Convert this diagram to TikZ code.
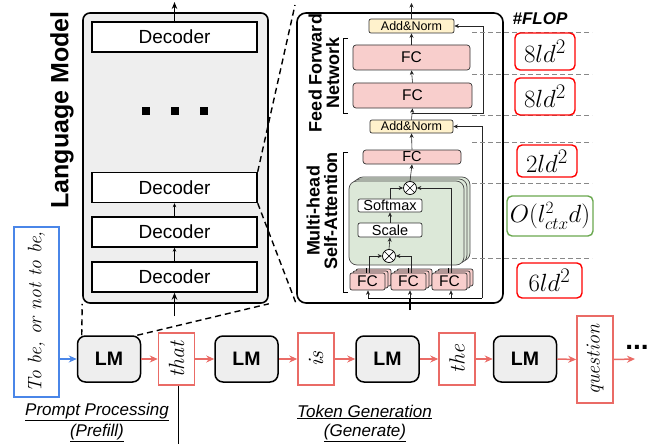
\documentclass[tikz,border=0pt]{standalone}
\usepackage[no-math]{fontspec}
\setsansfont{Liberation Sans}
\usetikzlibrary{arrows.meta,calc}
\definecolor{lmgray}{HTML}{EEEEEE}
\definecolor{fcpink}{HTML}{F8CECC}
\definecolor{anyellow}{HTML}{FFF2CC}
\definecolor{attgreen}{HTML}{DCE8D8}
\definecolor{tokred}{HTML}{EA6B66}
\definecolor{promptblue}{HTML}{4A86E8}
\definecolor{flopred}{HTML}{FF0000}
\definecolor{flopgreen}{HTML}{6AA84F}
\definecolor{dashgray}{HTML}{888888}
\newcommand\myfs[1]{\fontsize{#1}{#1}\selectfont}
\begin{document}
\begin{tikzpicture}[x=1pt,y=-1pt,font=\sffamily,
  lmbox/.style={draw,line width=1.6pt,fill=lmgray,rounded corners=7pt,minimum width=185pt,minimum height=290pt,inner sep=0pt},
  dec/.style={draw,line width=1.4pt,fill=white,minimum width=165pt,minimum height=30pt,inner sep=0pt,font={\sffamily\myfs{19}}},
  detbox/.style={draw,line width=1.6pt,fill=white,rounded corners=9pt,minimum width=206pt,minimum height=290pt,inner sep=0pt},
  anbox/.style={draw=black!80,line width=0.7pt,fill=anyellow,rounded corners=2pt,inner sep=0pt,font={\sffamily\myfs{12.5}}},
  fcbox/.style={draw=black!80,line width=0.7pt,fill=fcpink,rounded corners=3pt,inner sep=0pt,font={\sffamily\myfs{15.5}}},
  wbox/.style={draw=black!80,line width=0.7pt,fill=white,rounded corners=2pt,inner sep=0pt,minimum width=64pt,font={\sffamily\myfs{14.5}}},
  attbox/.style={draw=black!70,line width=0.7pt,fill=attgreen,rounded corners=8pt,minimum width=115pt,minimum height=84pt,inner sep=0pt},
  otimes/.style={draw,circle,fill=white,line width=0.7pt,minimum size=13pt,inner sep=0pt},
  rotlabel/.style={rotate=90,align=center,font={\sffamily\bfseries\myfs{18}\setlength{\baselineskip}{17.5pt}}},
  flopbox/.style={draw=flopred,line width=1.4pt,rounded corners=5pt,inner sep=0pt},
  lmnode/.style={draw,line width=1.5pt,fill=lmgray,rounded corners=8pt,minimum width=63pt,minimum height=46pt,inner sep=0pt,font={\sffamily\bfseries\myfs{19.5}}},
  tok/.style={draw=tokred,line width=1.5pt,fill=white,minimum width=36pt,inner sep=0pt},
  hand/.style={rotate=90,font={\rmfamily\itshape\myfs{22}}},
  tokarr/.style={draw=tokred,line width=1.5pt,-{Stealth[length=8pt,width=7pt]}},
  thkarr/.style={line width=1.4pt,-{Stealth[length=7pt,width=5.5pt]}},
  smarr/.style={line width=0.6pt,-{Stealth[length=4pt,width=3.5pt]}},
  tnarr/.style={line width=0.6pt,draw=black!85,-{Stealth[length=4.5pt,width=4pt]}},
  bigdash/.style={line width=1.4pt,dash pattern=on 6pt off 4pt},
  gdash/.style={dashgray,line width=0.8pt,dash pattern=on 5pt off 3pt},
  undl/.style={font={\sffamily\itshape\myfs{17}}}
]
\useasboundingbox (0,0) rectangle (667,444);

% ---------- Language model ----------
\node[lmbox] (lmm) at (175.5,158) {};
\node[dec] (d1) at (174.5,37) {Decoder};
\node[dec] (d2) at (174.5,187.5) {Decoder};
\node[dec] (d3) at (174.5,232) {Decoder};
\node[dec] (d4) at (174.5,277) {Decoder};
\foreach \x in {146,175,204} \fill (\x-4,106.5) rectangle (\x+4,114.5);
\node[rotate=90,font={\sffamily\bfseries\myfs{25}}] (lmlabel) at (62,110) {Language Model};
\coordinate (lmtop) at (174.5,2);
\coordinate (lmin) at (174.5,316);
\draw[thkarr] (d1.north) -- (lmtop);
\draw[smarr] (d3.north) -- (d2.south);
\draw[smarr] (d4.north) -- (d3.south);
\draw[thkarr] (lmin) -- (d4.south);

% ---------- detail box ----------
\node[detbox] (det) at (400,158) {};
\node[rotlabel] (ffnlab) at (324,73) {Feed Forward\\Network};
\node[rotlabel] (mhlab) at (322,211) {Multi-head\\Self-Attention};
\draw[line width=1pt] (348,39) -- (343,39) -- (343,113) -- (348,113);
\draw[line width=1pt] (348,152) -- (343,152) -- (343,292) -- (348,292);

\node[anbox,minimum width=85pt,minimum height=14pt] (an1) at (411.5,26) {Add\&Norm};
\node[fcbox,minimum width=117pt,minimum height=25pt] (fc1) at (411.5,57.5) {FC};
\node[fcbox,minimum width=119pt,minimum height=25pt] (fc2) at (412.5,95.5) {FC};
\node[anbox,minimum width=83pt,minimum height=13pt] (an2) at (411.5,126.5) {Add\&Norm};
\node[fcbox,minimum width=98pt,minimum height=14pt,font={\sffamily\myfs{14.5}}] (fco) at (412,157) {FC};

% attention stack
\node[attbox] (att2) at (412.5,219) {};
\node[attbox] (att1) at (409.5,221) {};
\node[attbox] (att) at (406.5,223) {};
\node[otimes] (mu) at (410,188) {};
\draw[line width=0.7pt] (mu.north west) -- (mu.south east) (mu.north east) -- (mu.south west);
\node[wbox,minimum height=13pt] (sm) at (390,205.5) {Softmax};
\node[wbox,minimum height=14pt] (sc) at (390,230) {Scale};
\node[otimes] (ml) at (389,256) {};
\draw[line width=0.7pt] (ml.north west) -- (ml.south east) (ml.north east) -- (ml.south west);

% heads
\foreach \n/\x in {hL/367.5,hM/408.5,hR/449.5}{
  \node[fcbox,rounded corners=2pt,minimum width=35pt,minimum height=17pt] at (\x+6,277.5) {};
  \node[fcbox,rounded corners=2pt,minimum width=35pt,minimum height=17pt] at (\x+3,279.5) {};
  \node[fcbox,rounded corners=2pt,minimum width=35pt,minimum height=17pt] (\n) at (\x,281.5) {FC};
}

% attention arrows
\coordinate (inb) at (410,310);
\coordinate (junc) at (410,298);
\coordinate (jl) at (368,298);
\coordinate (jr) at (451,298);
\coordinate (jres) at (482,298);
\draw[line width=1.4pt] (inb) -- (junc);
\draw[line width=0.7pt] (jl) -- (jres);
\draw[tnarr] (jl) -- (jl |- hL.south);
\draw[tnarr] (junc) -- (junc |- hM.south);
\draw[tnarr] (jr) -- (jr |- hR.south);
\draw[tnarr] (jres) -- (jres |- an2.east) -- (an2.east);
\draw[tnarr] ($(hL.north)+(2,0)$) |- (ml.west);
\draw[tnarr] ($(hM.north)+(3,0)$) |- (ml.east);
\draw[tnarr] ($(hR.north)+(2,0)$) |- (mu.east);
\draw[line width=0.6pt] ($(hL.north)+(-1,0)$) -- ++(0,-5) ($(hM.north)+(0,0)$) -- ++(0,-5) ($(hR.north)+(-1,0)$) -- ++(0,-5);
\draw[tnarr] (ml.north) -- (sc.south);
\draw[tnarr] (sc.north) -- (sm.south);
\draw[tnarr] (sm.north) |- (mu.west);
\draw[tnarr] (mu.north) -- (fco.south);
\draw[tnarr] (fco.north) -- (an2.south);
\draw[tnarr] (an2.north) -- (fc2.south);
\draw[tnarr] (fc2.north) -- (fc1.south);
\draw[tnarr] (fc1.north) -- (an1.south);
\coordinate (dtop) at (411.5,3);
\draw[tnarr] (an1.north) -- (dtop);
\coordinate (res1) at (411.5,113);
\draw[tnarr] (res1) -| (483,26) -- (an1.east);

% gray dashed guide lines
\foreach \y in {32,74,115,142,183,258} \draw[gdash] (472,\y) -- (592,\y);

% FLOP column
\node[font={\sffamily\bfseries\itshape\myfs{17}}] (floph) at (540,19) {\#FLOP};
\node[flopbox,minimum width=60pt,minimum height=37pt,font={\myfs{30}}] (f1) at (545,51.5) {$8ld^2$};
\node[flopbox,minimum width=60pt,minimum height=37pt,font={\myfs{30}}] (f2) at (545,96.5) {$8ld^2$};
\node[flopbox,minimum width=60pt,minimum height=32pt,font={\myfs{30}}] (f3) at (547,161) {$2ld^2$};
\node[flopbox,draw=flopgreen,minimum width=86pt,minimum height=40pt,font={\myfs{23}}] (f4) at (550,216) {$O(l_{ctx}^2d)$};
\node[flopbox,minimum width=65pt,minimum height=35pt,font={\myfs{32}}] (f5) at (549.5,280.5) {$6ld^2$};

% ---------- bottom row ----------
\node[draw=promptblue,line width=1.5pt,fill=white,minimum width=45pt,minimum height=170pt,inner sep=0pt] (prompt) at (36.5,312) {};
\node[rotate=90,font={\rmfamily\itshape\myfs{19.5}}] at (prompt.center) {To be, or not to be,};
\node[lmnode] (lm1) at (109,359) {LM};
\node[lmnode] (lm2) at (246.5,359) {LM};
\node[lmnode] (lm3) at (387.5,359) {LM};
\node[lmnode] (lm4) at (525,359) {LM};
\node[tok,minimum height=52pt] (t1) at (176.5,359) {};
\node[hand] at (t1.center) {that};
\node[tok,minimum height=52pt] (t2) at (316,359) {};
\node[hand] at (t2.center) {is};
\node[tok,minimum height=52pt] (t3) at (457,359) {};
\node[hand] at (t3.center) {the};
\node[tok,minimum height=87pt] (t4) at (595,359.5) {};
\node[hand,font={\rmfamily\itshape\myfs{20}}] at (t4.center) {question};
\coordinate (tend) at (635,359);
\node[anchor=base,font={\sffamily\bfseries\myfs{28}}] (more) at (637,349) {...};

\draw[draw=promptblue,line width=1.5pt,-{Stealth[length=8pt,width=7pt]}] (prompt.east |- lm1.west) -- (lm1.west);
\draw[tokarr] (lm1.east) -- (t1.west);
\draw[tokarr] (t1.east) -- (lm2.west);
\draw[tokarr] (lm2.east) -- (t2.west);
\draw[tokarr] (t2.east) -- (lm3.west);
\draw[tokarr] (lm3.east) -- (t3.west);
\draw[tokarr] (t3.east) -- (lm4.west);
\draw[tokarr] (lm4.east) -- (t4.west);
\draw[tokarr] (t4.east) -- (tend);

% dashed zoom connectors
\coordinate (zt) at (295,5);
\draw[bigdash] ($(lm1.north west)+(5,0)$) -- (lmm.south west);
\draw[bigdash] ($(lm1.north east)+(-4,0)$) -- (lmm.south east);
\draw[bigdash] (d2.north east) -- (zt);
\draw[bigdash] (d2.south east) -- (det.south west);

% separator
\coordinate (sepb) at (178.5,444);
\draw[line width=1.4pt] (t1.south -| sepb) -- (sepb);

% labels
\node[undl] (pp1) at (97,412) {\underline{Prompt Processing}};
\node[undl] (pp2) at (97,433) {\underline{(Prefill)}};
\node[undl] (tg1) at (364.5,412) {\underline{Token Generation}};
\node[undl] (tg2) at (365,433) {\underline{(Generate)}};
\end{tikzpicture}
\end{document}
